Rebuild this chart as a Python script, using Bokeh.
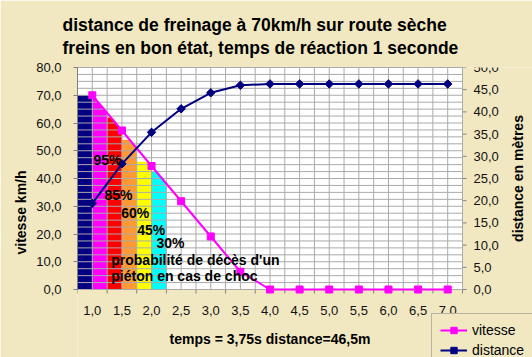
import numpy as np
from bokeh.plotting import figure
from bokeh.models import (Range1d, FixedTicker, CustomJSTickFormatter, Title, Legend,
                          LegendItem, ColumnDataSource, BoxAnnotation)
from bokeh.core.properties import value
from bokeh.embed import file_html
from bokeh.resources import INLINE

# ---------------- data ----------------
temps = [1.0, 1.5, 2.0, 2.5, 3.0, 3.5, 4.0, 4.5, 5.0, 5.5, 6.0, 6.5, 7.0]
vitesse = [70.0, 57.3, 44.5, 31.8, 19.1, 6.4, 0.0, 0.0, 0.0, 0.0, 0.0, 0.0, 0.0]
distance = [19.4, 28.3, 35.4, 40.7, 44.3, 46.0, 46.3, 46.3, 46.3, 46.3, 46.3, 46.3, 46.3]
x_labels = ["1,0", "1,5", "2,0", "2,5", "3,0", "3,5", "4,0", "4,5", "5,0", "5,5", "6,0", "6,5", "7,0"]
y_ticks = [0, 10, 20, 30, 40, 50, 60, 70, 80]
y2_ticks = [0, 5, 10, 15, 20, 25, 30, 35, 40, 45, 50]
y2_labels = ["0,0", "5,0", "10,0", "15,0", "20,0", "25,0", "30,0", "35,0", "40,0", "45,0", "50,0"]

# probability-of-death bands (time span, height in km/h, colour)
bande_debut = [0.75, 1.0, 1.25, 1.5, 1.75, 2.0]
bande_fin = [1.0, 1.25, 1.5, 1.75, 2.0, 2.25]
bande_hauteur = [70.0, 70.0, 62.0, 54.0, 46.0, 42.3]
bande_couleur = ["#000080", "#FF00FF", "#FF0000", "#FF9933", "#FFFF00", "#00FFFF"]

proba_textes = ["95%", "85%", "60%", "45%", "30%"]
note_textes = ["probabilité de décès d'un", "piéton en cas de choc"]

titre_1 = "distance de freinage à 70km/h  sur route sèche"
titre_2 = "freins en bon état, temps de réaction 1 seconde"
x_titre = "temps = 3,75s distance=46,5m"
y_titre = "vitesse km/h"
y2_titre = "distance en mètres"

# ---------------- styles / placement ----------------
BG = "#F1E8C2"
FONT = "Liberation Sans"
GRID = "#AAAAAA"
AXIS = "#808080"

W, H = 532, 357
FL, FT, PR, PB = 77, 67, 462, 289      # plot-area edges in pixels
X0, X1 = 0.75, 7.25
kx = (PR - FL) / (X1 - X0)
ky = (PB - FT) / 80.0
kr = (PB - FT) / 50.0

proba_x = [1.02, 1.206, 1.488, 1.758, 2.084]
proba_y = [46.5, 34.1, 27.6, 21.6, 16.8]
note_x = [1.32, 1.32]
note_y = [10.5, 5.0]

p = figure(width=W, height=H, output_backend="svg", toolbar_location=None, title=None,
           x_range=Range1d(X0, X0 + (W - FL) / kx), y_range=Range1d(-(H - PB) / ky, 80),
           x_axis_location=None, y_axis_location="left",
           min_border_left=FL, min_border_right=0, min_border_top=FT, min_border_bottom=0)
p.extra_y_ranges = {"right": Range1d(-(H - PB) / kr, 50)}
p.background_fill_color = BG
p.border_fill_color = BG
p.outline_line_color = None
for g in list(p.xgrid) + list(p.ygrid):
    g.visible = False

# two-line title
p.add_layout(Title(text=titre_1 + "\n" + titre_2, align="left", text_font=FONT,
                   text_font_size="17.5px", text_font_style="bold", text_color="black",
                   text_line_height=1.19, standoff=18, offset=-15), "above")

# white plot area
p.add_layout(BoxAnnotation(left=X0, right=X1, bottom=0, top=80, fill_color="white",
                           fill_alpha=1, line_color=GRID, line_width=1, level="image"))

# left axis
yax = p.yaxis[0]
yax.bounds = (0, 80)
yax.ticker = FixedTicker(ticks=y_ticks)
yax.formatter = CustomJSTickFormatter(code="return tick.toFixed(1).replace('.', ',');")
yax.major_tick_out = 4
yax.major_tick_in = 0
yax.minor_tick_line_color = None
yax.major_tick_line_color = AXIS
yax.axis_line_color = AXIS
yax.major_label_standoff = 12
yax.axis_label = y_titre
yax.axis_label_standoff = 4
yax.major_label_text_font = FONT
yax.major_label_text_font_size = "13px"
yax.major_label_text_color = "#111111"
yax.axis_label_text_font = FONT
yax.axis_label_text_font_size = "14px"
yax.axis_label_text_font_style = "bold"
yax.axis_label_text_color = "black"

# bands (tops clipped by the speed curve)
xs_list, ys_list = [], []
for s, e, h in zip(bande_debut, bande_fin, bande_hauteur):
    xs = np.linspace(s, e, 41)
    top = np.minimum(h, np.interp(xs, temps, vitesse))
    xs_list.append([s] + list(xs) + [e])
    ys_list.append([0.0] + list(top) + [0.0])
p.patches(xs=xs_list, ys=ys_list, fill_color=bande_couleur, line_color=None)

# grid lines (over the bands, as in the original)
boundaries = list(np.arange(X0, X1 + 0.01, 0.5))
vgrid = list(np.arange(X0, X1 + 0.01, 0.25))
hgrid = list(np.arange(0, 80.01, 2.5))
gv = p.segment(x0=vgrid, x1=vgrid, y0=0, y1=80, line_color=GRID, line_width=1)
gh = p.segment(x0=X0, x1=X1, y0=hgrid, y1=hgrid, line_color=GRID, line_width=1)
gv.level = "guide"
gh.level = "guide"

# bottom axis (drawn in the plot)
p.segment(x0=boundaries, x1=boundaries, y0=0, y1=-4 / ky, line_color=AXIS)
xl = p.text(x=temps, y=[-21 / ky] * len(temps), text=x_labels, text_font=value(FONT),
            text_font_size="13px", text_color="#111111", text_align="center", text_baseline="middle")
p.text(x=[(X0 + X1) / 2], y=[-(338 - PB) / ky], text=[x_titre], text_font=value(FONT),
       text_font_size="14px", text_font_style="bold", text_color="black",
       text_align="center", text_baseline="middle")

# right axis (drawn in the plot)
p.segment(x0=X1, x1=X1 + 4 / kx, y0=y2_ticks, y1=y2_ticks, y_range_name="right", line_color=AXIS)
p.text(x=[X1 + 11 / kx] * len(y2_ticks), y=y2_ticks, text=y2_labels, y_range_name="right",
       text_font=value(FONT), text_font_size="13px", text_color="#111111",
       text_align="left", text_baseline="middle")
p.text(x=[X1 + (517 - PR) / kx], y=[25], text=[y2_titre], y_range_name="right", angle=np.pi / 2,
       text_font=value(FONT), text_font_size="14px", text_font_style="bold", text_color="black",
       text_align="center", text_baseline="middle")

# series
src = ColumnDataSource(dict(t=temps, v=vitesse, d=distance))
l1 = p.line("t", "v", source=src, line_color="#FF00FF", line_width=2)
s1 = p.scatter("t", "v", source=src, marker="square", size=7,
               fill_color="#FF00FF", line_color="#FF00FF")
l2 = p.line("t", "d", source=src, y_range_name="right", line_color="#000080", line_width=2)
s2 = p.scatter("t", "d", source=src, y_range_name="right", marker="square", size=6,
               angle=np.pi / 4, fill_color="#000080", line_color="#000080")

# texts inside the plot
t1 = p.text(x=proba_x, y=proba_y, text=proba_textes, text_font=value(FONT),
            text_font_size="14px", text_font_style="bold", text_color="black",
            text_baseline="middle", text_align="left")
t2 = p.text(x=note_x, y=note_y, text=note_textes, text_font=value(FONT),
            text_font_size="14px", text_font_style="bold", text_color="black",
            text_baseline="middle", text_align="left")
for r in [l1, s1, l2, s2, t1, t2]:
    r.level = "annotation"

pad, row, sp = 8, 16, 4
leg_top = 315
leg_h = 2 * pad + 2 * row + sp
legend = Legend(items=[LegendItem(label="vitesse", renderers=[l1, s1]),
                       LegendItem(label="distance", renderers=[l2, s2])],
                location=(431 - FL, H - (leg_top + leg_h)), orientation="vertical",
                padding=pad, margin=0, spacing=sp, glyph_width=27, glyph_height=row,
                label_height=row, label_standoff=5,
                label_text_font=FONT, label_text_font_size="14px", label_text_color="black",
                border_line_color=AXIS, background_fill_color=BG, background_fill_alpha=1)
legend.level = "annotation"
p.add_layout(legend)

open("out.html", "w").write(file_html(p, INLINE))
